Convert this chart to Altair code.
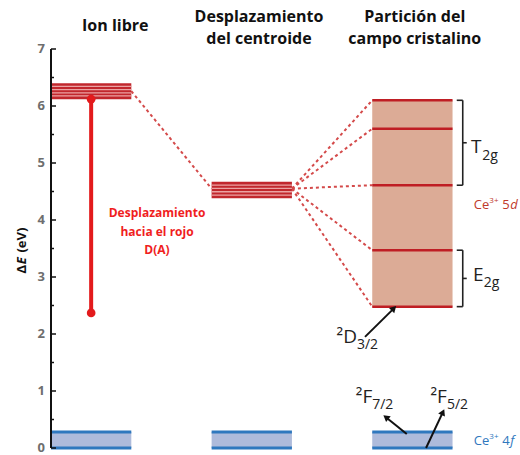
import math
import altair as alt
import pandas as pd

# ---------------- data ----------------
Y_TICKS = [0, 1, 2, 3, 4, 5, 6, 7]
Y_MINOR = [0.5, 1.5, 2.5, 3.5, 4.5, 5.5, 6.5]

COL_LEFT = [0, 2, 4]
COL_RIGHT = [1, 3, 5]

TITLE_LINES = ["Ion libre", "Desplazamiento", "del centroide", "Partición del", "campo cristalino"]
TITLE_X = [0.80, 2.59, 2.59, 4.53, 4.53]
TITLE_Y = [7.40, 7.57, 7.18, 7.57, 7.18]

FREE_ION = [6.12, 6.40]
FREE_ION_STRIPES = [6.176, 6.232, 6.288, 6.344]
CENTROID = [4.38, 4.67]
CENTROID_STRIPES = [4.438, 4.496, 4.554, 4.612]
CF_LEVELS = [6.10, 5.60, 4.61, 3.47, 2.48]
F_BAND = [0.0, 0.28]

FREE_ION_CENTER = 6.26
CENTROID_CENTER = 4.55

REDSHIFT_X = 0.5
REDSHIFT = [6.12, 2.37]
REDSHIFT_TEXT = ["Desplazamiento", "hacia el rojo", "D(A)"]
REDSHIFT_TEXT_X = 1.32
REDSHIFT_TEXT_Y = [4.12, 3.79, 3.47]

# brackets: (top, bottom)
T2G = [6.10, 4.61]
E2G = [3.47, 2.48]
BRACKET_X = 5.127

# arrows: tail x, tail y, head x, head y
ARROWS_X0 = [3.91, 4.43, 4.67]
ARROWS_Y0 = [1.95, 0.245, 0.0]
ARROWS_X1 = [4.27, 4.17, 4.88]
ARROWS_Y1 = [2.45, 0.54, 0.63]

# ---------------- geometry of the frame ----------------
W, H = 469, 399
X_DOMAIN = [0, 5.84]
Y_DOMAIN = [0, 7]
PX_X = W / (X_DOMAIN[1] - X_DOMAIN[0])
PX_Y = H / (Y_DOMAIN[1] - Y_DOMAIN[0])

xs = alt.Scale(domain=X_DOMAIN, nice=False, zero=False)
ys = alt.Scale(domain=Y_DOMAIN, nice=False, zero=False)

FONT = "Open Sans"
DARK_RED = "#bf1e24"
BLUE = "#2f78be"
CE_RED = "#c0392b"


def X(f="x"):
    return alt.X(f"{f}:Q", scale=xs, axis=None)


def Y(f="y"):
    return alt.Y(f"{f}:Q", scale=ys, axis=None)


# ---------------- axis (drawn by hand: line, inward ticks, labels) ----------------
axis_line = alt.Chart(pd.DataFrame({"x": [0], "y": [Y_DOMAIN[0]], "y2": [Y_DOMAIN[1]]})).mark_rule(
    color="#111", strokeWidth=2).encode(x=X(), y=Y(), y2="y2:Q")

tick_df = pd.DataFrame({
    "y": Y_TICKS + Y_MINOR,
    "x": [0] * (len(Y_TICKS) + len(Y_MINOR)),
    "x2": [5 / PX_X] * len(Y_TICKS) + [3 / PX_X] * len(Y_MINOR),
})
ticks = alt.Chart(tick_df).mark_rule(color="#111", strokeWidth=1.5).encode(
    x=X(), x2="x2:Q", y=Y())

tick_labels = alt.Chart(pd.DataFrame({
    "x": [-6 / PX_X] * len(Y_TICKS), "y": Y_TICKS, "t": [str(v) for v in Y_TICKS]})).mark_text(
    font=FONT, fontSize=13, fontWeight="bold", color="#6e6e6e",
    align="right", baseline="middle").encode(x=X(), y=Y(), text="t:N")

# axis title ΔE (eV) with italic E
AT_X = -29 / PX_X
AT_Y0 = 3.06
at_plain = alt.Chart(pd.DataFrame({
    "x": [AT_X, AT_X], "y": [AT_Y0, AT_Y0 + 21.0 / PX_Y], "t": ["Δ", "(eV)"]})).mark_text(
    angle=270, align="left", baseline="middle", font=FONT, fontSize=13,
    fontWeight="bold", color="#111").encode(x=X(), y=Y(), text="t:N")
at_italic = alt.Chart(pd.DataFrame({
    "x": [AT_X], "y": [AT_Y0 + 9.3 / PX_Y], "t": ["E"]})).mark_text(
    angle=270, align="left", baseline="middle", font=FONT, fontSize=13,
    fontWeight="bold", fontStyle="italic", color="#111").encode(x=X(), y=Y(), text="t:N")

# ---------------- 4f bands ----------------
fb_df = pd.DataFrame({"x": COL_LEFT, "x2": COL_RIGHT,
                      "y": [F_BAND[0]] * 3, "y2": [F_BAND[1]] * 3})
fband = alt.Chart(fb_df).mark_rect(color="#aebbdb").encode(
    x=X(), x2="x2:Q", y=Y(), y2="y2:Q")
fl_df = pd.DataFrame({"x": COL_LEFT * 2, "x2": COL_RIGHT * 2,
                      "y": [F_BAND[0]] * 3 + [F_BAND[1]] * 3})
flines = alt.Chart(fl_df).mark_rule(color=BLUE, strokeWidth=3).encode(
    x=X(), x2="x2:Q", y=Y())

# ---------------- crystal-field box ----------------
cf_box = alt.Chart(pd.DataFrame({
    "x": [COL_LEFT[2]], "x2": [COL_RIGHT[2]],
    "y": [min(CF_LEVELS)], "y2": [max(CF_LEVELS)]})).mark_rect(
    color="#dcab96").encode(x=X(), x2="x2:Q", y=Y(), y2="y2:Q")
cf_lines = alt.Chart(pd.DataFrame({
    "x": [COL_LEFT[2]] * len(CF_LEVELS), "x2": [COL_RIGHT[2]] * len(CF_LEVELS),
    "y": CF_LEVELS})).mark_rule(color=DARK_RED, strokeWidth=2.5).encode(
    x=X(), x2="x2:Q", y=Y())

# ---------------- striped 5d blocks ----------------
blk_df = pd.DataFrame({"x": [COL_LEFT[0], COL_LEFT[1]],
                       "x2": [COL_RIGHT[0], COL_RIGHT[1]],
                       "y": [FREE_ION[0], CENTROID[0]],
                       "y2": [FREE_ION[1], CENTROID[1]]})
blocks = alt.Chart(blk_df).mark_rect(color="#c1272d").encode(
    x=X(), x2="x2:Q", y=Y(), y2="y2:Q")
st_df = pd.DataFrame({
    "x": [COL_LEFT[0]] * 4 + [COL_LEFT[1]] * 4,
    "x2": [COL_RIGHT[0]] * 4 + [COL_RIGHT[1]] * 4,
    "y": FREE_ION_STRIPES + CENTROID_STRIPES})
stripes = alt.Chart(st_df).mark_rule(color="#eba3a3", strokeWidth=1.3).encode(
    x=X(), x2="x2:Q", y=Y())

# ---------------- dashed connectors ----------------
cx0 = [COL_RIGHT[0]] + [COL_RIGHT[1]] * len(CF_LEVELS)
cy0 = [FREE_ION_CENTER] + [CENTROID_CENTER] * len(CF_LEVELS)
cx1 = [COL_LEFT[1]] + [COL_LEFT[2]] * len(CF_LEVELS)
cy1 = [CENTROID_CENTER] + CF_LEVELS
dash = alt.Chart(pd.DataFrame({"x": cx0, "y": cy0, "x2": cx1, "y2": cy1})).mark_rule(
    color="#d44a4a", strokeWidth=2, strokeDash=[3, 3]).encode(
    x=X(), y=Y(), x2="x2:Q", y2="y2:Q")

# ---------------- red-shift arrow ----------------
rs = alt.Chart(pd.DataFrame({"x": [REDSHIFT_X], "y": [REDSHIFT[0]],
                             "y2": [REDSHIFT[1]]})).mark_rule(
    color="#e31a1c", strokeWidth=4).encode(x=X(), y=Y(), y2="y2:Q")
rs_dots = alt.Chart(pd.DataFrame({"x": [REDSHIFT_X] * 2, "y": REDSHIFT})).mark_circle(
    color="#e31a1c", size=75, opacity=1).encode(x=X(), y=Y())
rs_text = alt.Chart(pd.DataFrame({"x": [REDSHIFT_TEXT_X] * 3, "y": REDSHIFT_TEXT_Y,
                                  "t": REDSHIFT_TEXT})).mark_text(
    font=FONT, fontSize=12, fontWeight="bold", color="#f01e1e",
    align="center", baseline="middle").encode(x=X(), y=Y(), text="t:N")

# ---------------- titles ----------------
titles = alt.Chart(pd.DataFrame({"x": TITLE_X, "y": TITLE_Y, "t": TITLE_LINES})).mark_text(
    font=FONT, fontSize=16, fontWeight="bold", color="#111",
    align="center", baseline="middle").encode(x=X(), y=Y(), text="t:N")

# ---------------- brackets ----------------
br_rows = []
for top, bot in (T2G, E2G):
    br_rows.append({"x": BRACKET_X, "x2": BRACKET_X, "y": top, "y2": bot})
    br_rows.append({"x": BRACKET_X - 6 / PX_X, "x2": BRACKET_X, "y": top, "y2": top})
    br_rows.append({"x": BRACKET_X - 6 / PX_X, "x2": BRACKET_X, "y": bot, "y2": bot})
    mid = (top + bot) / 2
    br_rows.append({"x": BRACKET_X, "x2": BRACKET_X + 4 / PX_X, "y": mid, "y2": mid})
brackets = alt.Chart(pd.DataFrame(br_rows)).mark_rule(color="#222", strokeWidth=1.6).encode(
    x=X(), x2="x2:Q", y=Y(), y2="y2:Q")

# ---------------- labels with sub/superscripts ----------------
LEFT_LAB_X = [5.23, 5.255]
LEFT_LAB_Y = [5.28, 3.04]
LEFT_LAB_T = ["T", "E"]
RIGHT_LAB_X = [3.81, 4.00, 4.93]
RIGHT_LAB_Y = [1.94, 0.895, 0.895]
RIGHT_LAB_T = ["²D", "²F", "²F"]
SUB_X = [5.37, 5.39, 3.81, 4.00, 4.93]
SUB_Y = [5.13, 2.89, 1.80, 0.76, 0.76]
SUB_T = ["2g", "2g", "3/2", "7/2", "5/2"]

main_left = alt.Chart(pd.DataFrame({"x": LEFT_LAB_X, "y": LEFT_LAB_Y, "t": LEFT_LAB_T})).mark_text(
    font=FONT, fontSize=19, color="#222", baseline="middle", align="left").encode(
    x=X(), y=Y(), text="t:N")
main_right = alt.Chart(pd.DataFrame({"x": RIGHT_LAB_X, "y": RIGHT_LAB_Y, "t": RIGHT_LAB_T})).mark_text(
    font=FONT, fontSize=19, color="#222", baseline="middle", align="right").encode(
    x=X(), y=Y(), text="t:N")
sub_labels = alt.Chart(pd.DataFrame({"x": SUB_X, "y": SUB_Y, "t": SUB_T})).mark_text(
    font=FONT, fontSize=14, color="#222", baseline="middle", align="left").encode(
    x=X(), y=Y(), text="t:N")

# Ce labels: "Ce", superscript "3+", shell number, italic orbital letter
CE_X = 5.265
CE_Y = [4.27, 0.13]
CE_N = ["5", "4"]
CE_IT = ["d", "f"]
CE_COL = [CE_RED, BLUE]
ce_layers = []
for yv, n, it, col in zip(CE_Y, CE_N, CE_IT, CE_COL):
    parts = [
        ("Ce", CE_X, yv, 13, "normal"),
        ("3+", CE_X + 15.5 / PX_X, yv + 4 / PX_Y, 8, "normal"),
        (n, CE_X + 28.5 / PX_X, yv, 13, "normal"),
        (it, CE_X + 36.5 / PX_X, yv, 13, "italic"),
    ]
    for t, xv, yy, fs, st in parts:
        ce_layers.append(alt.Chart(pd.DataFrame({"x": [xv], "y": [yy], "t": [t]})).mark_text(
            font=FONT, fontSize=fs, fontStyle=st, align="left", baseline="middle",
            color=col).encode(x=X(), y=Y(), text="t:N"))

# ---------------- black arrows ----------------
ar_df = pd.DataFrame({"x": ARROWS_X0, "y": ARROWS_Y0, "x2": ARROWS_X1, "y2": ARROWS_Y1})
ar_lines = alt.Chart(ar_df).mark_rule(color="#111", strokeWidth=2).encode(
    x=X(), y=Y(), x2="x2:Q", y2="y2:Q")
heads = []
for x0, y0, x1, y1 in zip(ARROWS_X0, ARROWS_Y0, ARROWS_X1, ARROWS_Y1):
    dx = (x1 - x0) * PX_X
    dy = -(y1 - y0) * PX_Y
    ang = (math.degrees(math.atan2(dx, -dy)) + 360) % 360
    heads.append(
        alt.Chart(pd.DataFrame({"x": [x1], "y": [y1]})).mark_point(
            shape="triangle-up", filled=True, color="#111", size=55, opacity=1,
            angle=ang).encode(x=X(), y=Y()))

chart = alt.layer(
    fband, flines, cf_box, cf_lines, dash, blocks, stripes,
    rs, rs_dots, rs_text, titles, brackets, main_left, main_right, sub_labels,
    *ce_layers, ar_lines, *heads, axis_line, ticks, tick_labels, at_plain, at_italic,
).properties(
    width=W, height=H,
    padding={"left": 51, "top": 49, "right": 0, "bottom": 7},
    autosize=alt.AutoSizeParams(type="none"),
    background="white",
).configure_view(stroke=None)

chart.save("out.html", embed_options={"renderer": "svg", "actions": False})
